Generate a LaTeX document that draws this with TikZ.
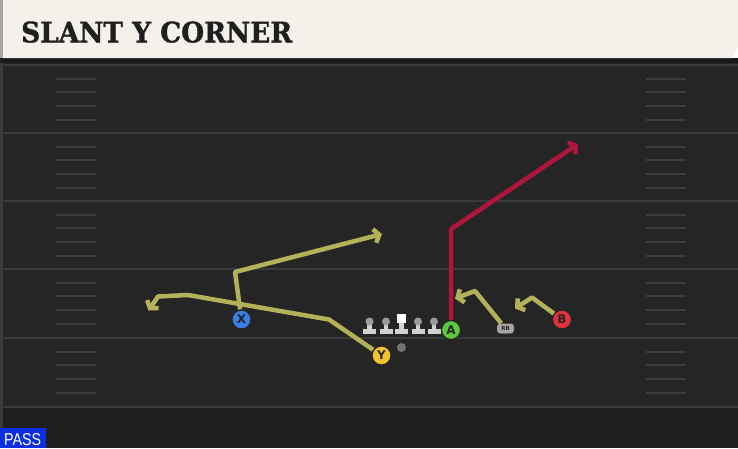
\documentclass[tikz,border=0pt]{standalone}
\usepackage{fontspec}
\usepackage{graphicx}
\usetikzlibrary{arrows.meta}
\newfontfamily\titlefont{DejaVu Serif}[FakeBold=1.2]
\newfontfamily\labfont{DejaVu Sans}
\newfontfamily\passfont{Liberation Sans}
\definecolor{fieldbg}{HTML}{252525}
\definecolor{fieldlow}{HTML}{1F1F1F}
\definecolor{yardline}{HTML}{3A3A3A}
\definecolor{hashc}{HTML}{3D3D3D}
\definecolor{titlebg}{HTML}{F4F1EA}
\definecolor{routey}{HTML}{B4B258}
\definecolor{router}{HTML}{B0163C}
\definecolor{xblue}{HTML}{3C7FE2}
\definecolor{yyellow}{HTML}{F2C22C}
\definecolor{agreen}{HTML}{5EC93C}
\definecolor{bred}{HTML}{E2323C}
\definecolor{linehead}{HTML}{9C9C9C}
\definecolor{linebody}{HTML}{D2D2D2}
\definecolor{passblue}{HTML}{0A2EE0}
\tikzset{
  player/.style={circle, draw=black!85, line width=1.2pt, minimum size=19pt, inner sep=0pt,
    font=\labfont\bfseries\fontsize{12pt}{12pt}\selectfont, text=black!85},
  yroute/.style={draw=routey, line width=4.5pt, line join=round,
    -{Straight Barb[length=5pt,width=14pt]}},
  rroute/.style={draw=router, line width=4.5pt, line join=round,
    -{Straight Barb[length=5pt,width=14pt]}},
  yard/.style={draw=yardline, line width=2.2pt},
  hashmark/.style={draw=hashc, line width=1.4pt},
  pics/lineman/.style={code={
    \fill[linebody] (-6.5,328.5) rectangle (6.5,334);
    \fill[linebody] (-2.4,323) rectangle (2.4,329);
    \fill[linehead] (0,321.5) circle (4);
  }},
  pics/centerman/.style={code={
    \fill[linebody] (-6.5,328.5) rectangle (6.5,334);
    \fill[linebody] (-2.4,322) rectangle (2.4,329);
    \fill[white] (-4.2,313.5) rectangle (4.2,322.5);
  }}
}
\begin{document}
\begin{tikzpicture}[x=1pt,y=-1pt]
\useasboundingbox (0,0) rectangle (738,448);
% field
\fill[fieldbg] (0,58) rectangle (738,448);
\fill[fieldlow] (0,407) rectangle (738,448);
\fill[black!90] (0,58) rectangle (738,63);
\fill[yardline] (0,63) rectangle (2.5,448);
\draw[yard] (0,65) -- (738,65);
\foreach \yy in {133,201,269,338,407} { \draw[yard] (0,\yy) -- (738,\yy); }
\foreach \base in {65,133,201,269,338} {
  \foreach \off in {14,27,41,55} {
    \draw[hashmark] (56,\base+\off) -- (96,\base+\off);
    \draw[hashmark] (646,\base+\off) -- (686,\base+\off);
  }
}
% title bar
\fill[titlebg] (2,0) -- (738,0) -- (738,47) -- (733,58) -- (2,58) -- cycle;
\fill[black!35] (0,0) rectangle (3,58);
\node[anchor=south west, inner sep=0pt, text=black!88] (title) at (21,43)
  {\resizebox{271pt}{21pt}{\titlefont\bfseries SLANT Y CORNER}};
% linemen
\foreach \lx in {369.5,386,418,434} { \pic at (\lx,0) {lineman}; }
\pic at (401.5,0) {centerman};
\node[circle, fill=black!55, minimum size=9pt, inner sep=0pt] (QB) at (401.5,347.5) {};
% players
\node[player, fill=xblue] (X) at (241.5,319.5) {X};
\node[player, fill=yyellow] (Y) at (381.5,355.5) {Y};
\node[player, fill=agreen] (A) at (451,330) {A};
\node[player, fill=bred] (B) at (562,319.5) {B};
\node[draw=black!70, fill=black!35, rounded corners=3pt, minimum width=17pt, minimum height=10pt,
  inner sep=0pt, font=\labfont\bfseries\fontsize{5.5pt}{5.5pt}\selectfont, text=black!85] (RB) at (505.5,328.5) {RB};
% route waypoints
\coordinate (xc) at (235,272);
\coordinate (xt) at (382,234);
\coordinate (yc1) at (329,319.5);
\coordinate (yc2) at (188,295);
\coordinate (yc3) at (158,296.5);
\coordinate (yt) at (148.5,310.5);
\coordinate (ac) at (451,229);
\coordinate (at) at (578,144);
\coordinate (rbc) at (475,291);
\coordinate (rbt) at (455,298.5);
\coordinate (bc) at (532,297.5);
\coordinate (bt) at (515,308.5);
% routes
\draw[yroute] (X) -- (xc) -- (xt);
\draw[yroute] (Y) -- (yc1) -- (yc2) -- (yc3) -- (yt);
\draw[rroute] (A) -- (ac) -- (at);
\draw[yroute] (RB) -- (rbc) -- (rbt);
\draw[yroute] (B) -- (bc) -- (bt);
% redraw players on top
\node[player, fill=xblue] at (X) {X};
\node[player, fill=yyellow] at (Y) {Y};
% pass label
\fill[passblue] (0,428) rectangle (46,448);
\node[anchor=south west, inner sep=0pt, text=white] (pass) at (4,445.5)
  {\resizebox{37pt}{12pt}{\passfont PASS}};
\end{tikzpicture}
\end{document}
